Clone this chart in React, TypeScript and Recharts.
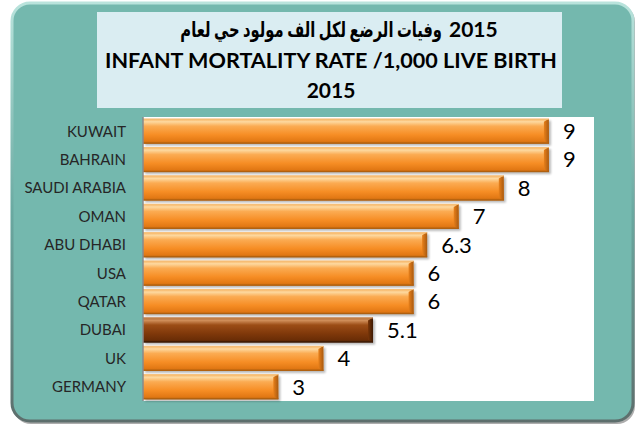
import React from "react";
import { BarChart, Bar, XAxis, YAxis, Cell, LabelList } from "recharts";

const countries = ["KUWAIT", "BAHRAIN", "SAUDI ARABIA", "OMAN", "ABU DHABI", "USA", "QATAR", "DUBAI", "UK", "GERMANY"];
const rates = [9, 9, 8, 7, 6.3, 6, 6, 5.1, 4, 3];
const highlighted = ["DUBAI"];
const titleArabic = "وفيات الرضع لكل الف مولود حي لعام";
const titleEnglish = "INFANT MORTALITY RATE /1,000 LIVE BIRTH";
const titleYear = "2015";
const xDomain = [0, 10];
const boundaryTicks = [0, 1, 2, 3, 4, 5, 6, 7, 8, 9, 10];

const data = countries.map((c, i) => ({ country: c, value: rates[i] }));

const FONT = "Lato, 'DejaVu Sans', sans-serif";

const BevelBar = (props: any) => {
  const { x, y, width, height, fill } = props;
  if (!width || width <= 0) return null;
  const dark = fill === "brown";
  const grad = dark ? "url(#gBrown)" : "url(#gOrange)";
  const endGrad = dark ? "url(#gBrownEnd)" : "url(#gOrangeEnd)";
  const b = 5;
  return (
    <g>
      <rect x={x + 2} y={y + 2} width={width} height={height} fill="#000" opacity={0.28} filter="url(#blur)" />
      <rect x={x} y={y} width={width} height={height} fill={grad} />
      <polygon
        points={`${x + width - b},${y + 3} ${x + width},${y} ${x + width},${y + height} ${x + width - b},${y + height - 3}`}
        fill={endGrad}
      />
      <rect x={x} y={y} width={width} height={1} fill={dark ? "#c8864e" : "#f6c07a"} />
      <rect x={x} y={y + height - 1.2} width={width} height={1.2} fill={dark ? "#3e1a04" : "#b0600f"} />
    </g>
  );
};

export default function App() {
  return (
    <div style={{ position: "absolute", left: 0, top: 0, width: 644, height: 432 }}>
      <svg width={644} height={432} style={{ position: "absolute", left: 0, top: 0 }}>
        <defs>
          <linearGradient id="frameStroke" x1="0" y1="0" x2="0" y2="1">
            <stop offset="0%" stopColor="#b9e3dc" />
            <stop offset="50%" stopColor="#6aa9a1" />
            <stop offset="100%" stopColor="#5d6e6c" />
          </linearGradient>
        </defs>
        <rect x={13} y={4} width={622} height={420} rx={18} fill="#777" opacity={0.6} />
        <rect x={12} y={3} width={621} height={418} rx={18} fill="#74b8ae" stroke="url(#frameStroke)" strokeWidth={3} />
        <rect x={97} y={12} width={465} height={96} fill="#daedf2" />
        <rect x={143} y={117} width={451} height={284} fill="#ffffff" />
        <g transform="translate(442,37) scale(0.7,1)">
          <text x={0} y={0} textAnchor="end" fontFamily={FONT} fontWeight="bold" fontSize={21} fill="#000">
            {titleArabic}
          </text>
        </g>
        <text x={449} y={37} textAnchor="start" fontFamily={FONT} fontWeight="bold" fontSize={21} fill="#000">
          {titleYear}
        </text>
        <text x={331} y={68} textAnchor="middle" fontFamily={FONT} fontWeight="bold" fontSize={21} fill="#000" textLength={452} lengthAdjust="spacingAndGlyphs">
          {titleEnglish}
        </text>
        <text x={331} y={98} textAnchor="middle" fontFamily={FONT} fontWeight="bold" fontSize={21} fill="#000">
          {titleYear}
        </text>
      </svg>
      <div style={{ position: "absolute", left: 0, top: 0 }}>
        <BarChart
          width={644}
          height={432}
          data={data}
          layout="vertical"
          margin={{ top: 117, right: 50, bottom: 31, left: 13 }}
          barCategoryGap="6%"
        >
          <defs>
            <filter id="blur" x="-5%" y="-30%" width="110%" height="160%">
              <feGaussianBlur stdDeviation="1.2" />
            </filter>
            <linearGradient id="gOrange" x1="0" y1="0" x2="0" y2="1">
              <stop offset="0%" stopColor="#f7ad58" />
              <stop offset="12%" stopColor="#fdd9a0" />
              <stop offset="30%" stopColor="#fbab52" />
              <stop offset="65%" stopColor="#f68d24" />
              <stop offset="90%" stopColor="#e27814" />
              <stop offset="100%" stopColor="#b8650f" />
            </linearGradient>
            <linearGradient id="gOrangeEnd" x1="0" y1="0" x2="1" y2="0">
              <stop offset="0%" stopColor="#e8801a" />
              <stop offset="100%" stopColor="#a95a10" />
            </linearGradient>
            <linearGradient id="gBrown" x1="0" y1="0" x2="0" y2="1">
              <stop offset="0%" stopColor="#b06a34" />
              <stop offset="12%" stopColor="#cf8d58" />
              <stop offset="30%" stopColor="#9c4d16" />
              <stop offset="65%" stopColor="#7f380a" />
              <stop offset="90%" stopColor="#6a2d06" />
              <stop offset="100%" stopColor="#42200a" />
            </linearGradient>
            <linearGradient id="gBrownEnd" x1="0" y1="0" x2="1" y2="0">
              <stop offset="0%" stopColor="#7a3608" />
              <stop offset="100%" stopColor="#3e1a04" />
            </linearGradient>
          </defs>
          <XAxis type="number" domain={xDomain} hide />
          <YAxis
            yAxisId="bounds"
            type="number"
            domain={[boundaryTicks[0], boundaryTicks[boundaryTicks.length - 1]]}
            ticks={boundaryTicks}
            width={0}
            tick={false}
            tickLine={{ stroke: "#8a8a8a" }}
            tickSize={5}
            axisLine={false}
          />
          <YAxis
            type="category"
            dataKey="country"
            width={130}
            axisLine={{ stroke: "#8a8a8a", strokeWidth: 1.5 }}
            tickLine={false}
            tickMargin={11}
            tick={{ fontSize: 15, fill: "#262626", fontFamily: FONT }}
            interval={0}
          />
          <Bar dataKey="value" isAnimationActive={false} shape={BevelBar}>
            {data.map((d) => (
              <Cell key={d.country} fill={highlighted.includes(d.country) ? "brown" : "orange"} />
            ))}
            <LabelList dataKey="value" position="right" offset={14} fontSize={22} fill="#000" fontFamily={FONT} />
          </Bar>
        </BarChart>
      </div>
    </div>
  );
}
